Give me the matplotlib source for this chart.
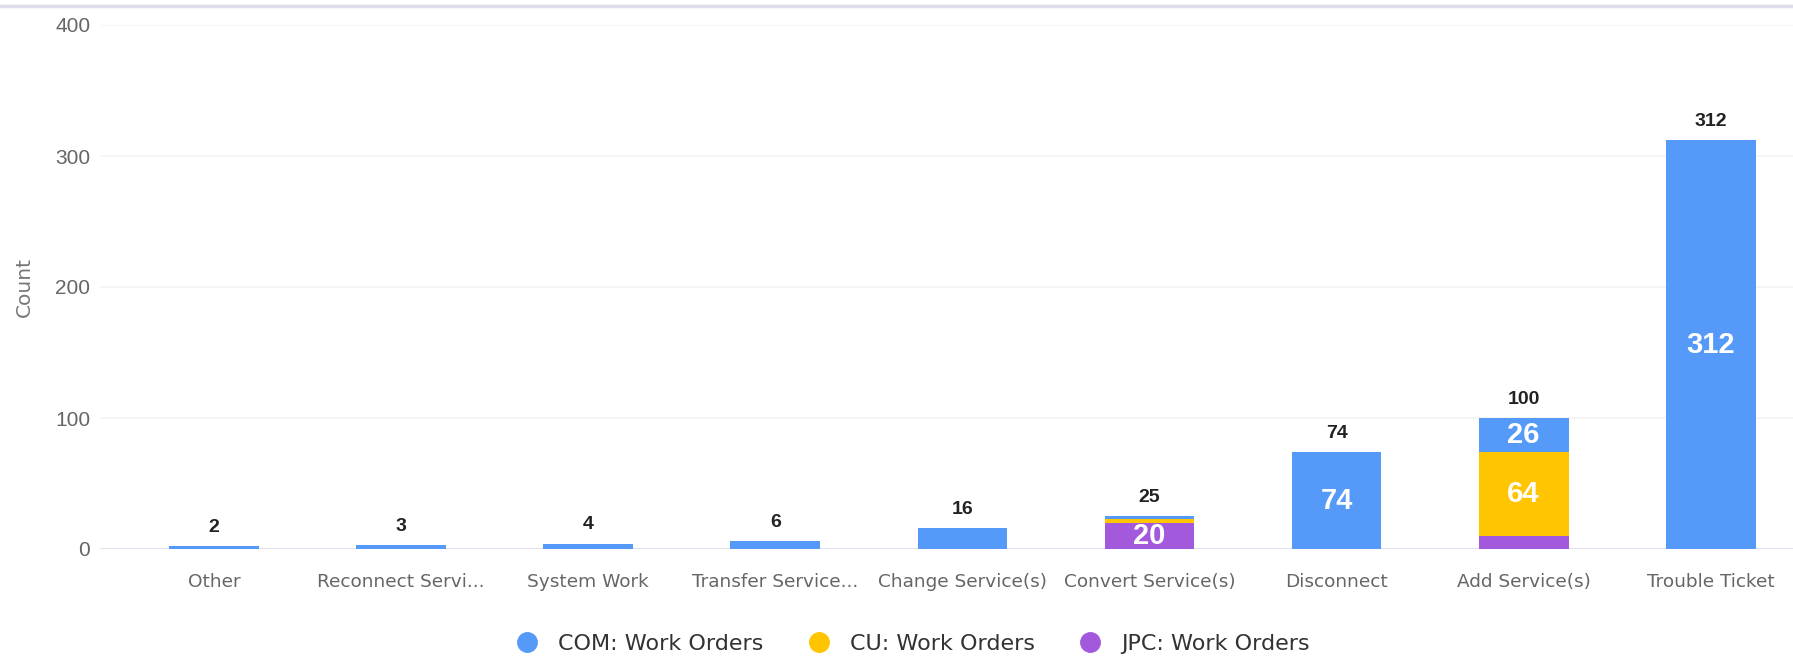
import numpy as np
import matplotlib.pyplot as plt
from matplotlib.lines import Line2D

# work order counts per request type
categories = ["Other", "Reconnect Servi...", "System Work", "Transfer Service...",
              "Change Service(s)", "Convert Service(s)", "Disconnect",
              "Add Service(s)", "Trouble Ticket"]
com_orders = [2, 3, 4, 6, 16, 2, 74, 26, 312]
cu_orders = [0, 0, 0, 0, 0, 3, 0, 64, 0]
jpc_orders = [0, 0, 0, 0, 0, 20, 0, 10, 0]

blue = "#559AF8"
yellow = "#FFC500"
purple = "#A259DC"

plt.rcParams['font.family'] = ['Liberation Sans', 'DejaVu Sans']

fig = plt.figure(figsize=(17.93, 6.66), dpi=100)
ax = fig.add_axes([100/1793, 1 - 549/666, 1 - 100/1793, (549 - 25)/666])

x = np.arange(len(categories))
w = 0.48
jpc = np.array(jpc_orders)
cu = np.array(cu_orders)
com = np.array(com_orders)

# stacked bars: JPC on the bottom, then CU, then COM
stack = [(jpc, purple, "JPC: Work Orders"),
         (cu, yellow, "CU: Work Orders"),
         (com, blue, "COM: Work Orders")]
bottom = np.zeros(len(categories))
for vals, col, lab in stack:
    ax.bar(x, vals, w, bottom=bottom, color=col, zorder=3)
    for i, v in enumerate(vals):
        if v >= 20:
            ax.text(x[i], bottom[i] + v / 2, str(v), ha='center', va='center',
                    color='white', fontsize=21, fontweight='bold', zorder=4)
    bottom = bottom + vals

totals = jpc + cu + com
for i, t in enumerate(totals):
    ax.annotate(str(t), (x[i], t), xytext=(0, 7.5), textcoords='offset points',
                ha='center', va='bottom', fontsize=14, fontweight='bold',
                color='#222222')

ax.set_ylim(0, 400)
ax.set_xlim(-0.61, 8.44)
ax.set_yticks([0, 100, 200, 300, 400])
ax.set_xticks(x)
ax.set_xticklabels(categories, family='DejaVu Sans', fontsize=13.3)
ax.tick_params(axis='both', length=0, colors='#666666')
ax.tick_params(axis='y', labelsize=15, pad=7)
ax.tick_params(axis='x', pad=17)
ax.grid(axis='y', color='#f3f3f6', linewidth=1.2, zorder=0)
ax.axhline(0, color='#e2e2ee', linewidth=1.5, zorder=2)
for s in ax.spines.values():
    s.set_visible(False)

fig.text(24/1793, 1 - 287/666, "Count", rotation=90, ha='center', va='center',
         fontsize=14.5, family='DejaVu Sans', color='#777777')

# thin border along the top
fig.add_artist(Line2D([0, 1], [1 - 6/666, 1 - 6/666], color='#dcdcec', linewidth=2.5))

handles = [Line2D([], [], marker='o', linestyle='', markersize=14, color=c)
           for c in (blue, yellow, purple)]
fig.legend(handles, ["COM: Work Orders", "CU: Work Orders", "JPC: Work Orders"],
           loc='center', bbox_to_anchor=(0.506, 1 - 644/666), ncol=3, frameon=False,
           prop={'family': 'DejaVu Sans', 'size': 16}, labelcolor='#333333',
           handletextpad=0.4, columnspacing=1.5)

fig.savefig("out.png", dpi=100, facecolor='white')
